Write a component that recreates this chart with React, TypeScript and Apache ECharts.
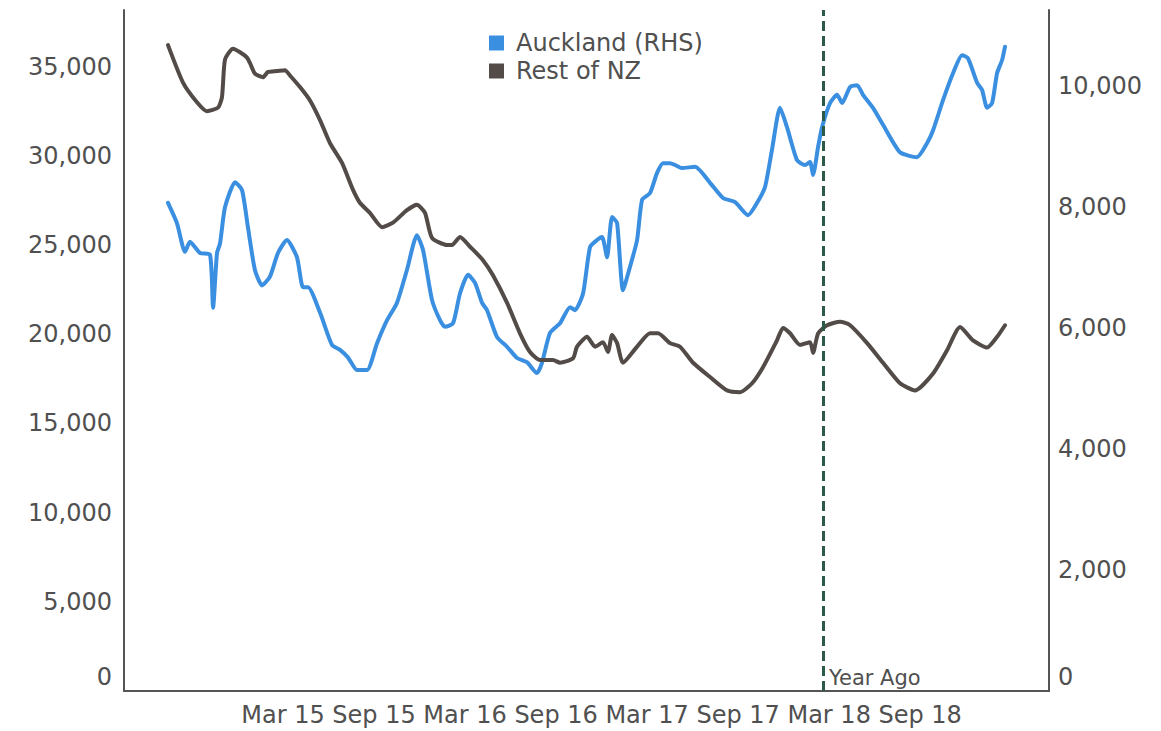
import { useEffect, useRef } from 'react';
import * as echarts from 'echarts';

// Month index counted from Jan 2014 (Jan 2014 = 0, Mar 2015 = 14, ...)
const xTickMonths = [14, 20, 26, 32, 38, 44, 50, 56];
const xTickLabels = ['Mar 15', 'Sep 15', 'Mar 16', 'Sep 16', 'Mar 17', 'Sep 17', 'Mar 18', 'Sep 18'];

const seriesNames = ['Auckland (RHS)', 'Rest of NZ'];

// Auckland (right-hand scale)
const aucklandMonths = [
  6.42, 7.01, 7.54, 7.87, 8.53, 9.19, 9.39, 9.65, 9.85, 10.18, 10.84, 11.3, 11.69, 12.15, 12.62, 13.14,
  13.67, 14.26, 14.92, 15.32, 15.65, 16.44, 17.23, 17.76, 18.28, 18.88, 19.54, 20.2, 20.86, 21.51, 22.17,
  22.83, 23.23, 23.82, 24.35, 24.68, 25.21, 25.67, 26.2, 26.66, 27.12, 27.45, 28.11, 28.77, 29.43, 30.08,
  30.74, 31.07, 31.6, 32.26, 32.92, 33.25, 33.78, 34.24, 34.7, 35.03, 35.36, 35.69, 36.02, 36.41, 36.87,
  37.34, 37.67, 38.19, 38.65, 39.05, 39.51, 39.84, 40.3, 41.16, 42.15, 43.0, 43.8, 44.65, 45.25, 45.77,
  46.23, 46.76, 47.22, 47.88, 48.41, 48.74, 48.94, 49.27, 49.53, 50.06, 50.52, 50.85, 51.38, 51.84, 52.23,
  52.89, 53.55, 54.67, 55.79, 56.45, 56.85, 57.51, 58.17, 58.76, 59.15, 59.75, 60.08, 60.41, 60.74, 61.07,
  61.4, 61.59,
];
const aucklandValues = [
  8070, 7735, 7260, 7425, 7240, 7210, 6335, 7240, 7400, 8000, 8410, 8280, 7665, 6960, 6705, 6850,
  7240, 7455, 7170, 6675, 6675, 6255, 5720, 5640, 5515, 5305, 5305, 5750, 6130, 6415, 6960,
  7535, 7290, 6465, 6130, 6020, 6080, 6575, 6880, 6745, 6415, 6295, 5850, 5690, 5505, 5435,
  5255, 5425, 5920, 6080, 6345, 6295, 6575, 7340, 7455, 7505, 7170, 7835, 7735, 6625, 7010,
  7455, 8120, 8230, 8560, 8725, 8725, 8695, 8645, 8665, 8400, 8150, 8080, 7865, 8070, 8330,
  8945, 9640, 9320, 8775, 8695, 8745, 8530, 8995, 9320, 9720, 9855, 9720, 9985, 10015, 9855,
  9640, 9360, 8905, 8825, 9055, 9270, 9770, 10215, 10510, 10460, 10055, 9935, 9640, 9720, 10215,
  10430, 10650,
];

// Rest of NZ (left-hand scale)
const restMonths = [
  6.42, 7.41, 8.33, 8.99, 9.72, 9.98, 10.18, 10.7, 11.17, 11.63, 11.82, 12.15, 12.68, 13.01, 13.6, 14.13,
  14.46, 15.12, 15.78, 16.44, 17.1, 17.89, 18.61, 19.08, 19.73, 20.53, 21.25, 22.17, 22.83, 23.36, 23.82,
  24.81, 25.14, 25.67, 26.33, 27.18, 27.84, 28.77, 29.62, 30.28, 30.94, 31.8, 32.26, 33.12, 33.38, 34.04,
  34.57, 35.09, 35.42, 35.69, 36.02, 36.41, 37.34, 38.19, 38.72, 39.51, 40.17, 41.03, 42.15, 43.27, 44.13,
  44.92, 45.64, 46.56, 46.96, 47.42, 48.08, 48.74, 48.94, 49.27, 49.86, 50.72, 51.38, 52.5, 53.55, 54.67,
  55.66, 56.85, 57.77, 58.63, 59.48, 60.41, 61.07, 61.59,
];
const restValues = [
  36200, 34100, 33000, 32500, 32700, 33300, 35400, 36000, 35800, 35500, 35200, 34600, 34400, 34700, 34750, 34800,
  34500, 33850, 33100, 32000, 30700, 29600, 28100, 27350, 26800, 26000, 26250, 26950, 27250, 26800, 25400,
  25000, 25000, 25450, 24900, 24150, 23300, 21750, 20050, 19000, 18550, 18550, 18400, 18650, 19300, 19850,
  19300, 19550, 19000, 19950, 19500, 18400, 19300, 20050, 20050, 19500, 19300, 18400, 17600, 16850, 16750,
  17250, 18150, 19650, 20350, 20050, 19400, 19550, 18950, 20050, 20500, 20700, 20500, 19500, 18400, 17250,
  16850, 17800, 19100, 20400, 19650, 19250, 19850, 20500,
];

// Marker one year before the latest observation
const yearAgoMonth = aucklandMonths[aucklandMonths.length - 1] - 12;

const FONT = 'DejaVu Sans';
const TEXT = '#505050';
const AXIS = '#555555';
const BLUE = '#3a8fe0';
const GREY = '#524b47';

const fmt = (v: number) => v.toLocaleString('en-US');

export default function App() {
  const ref = useRef<HTMLDivElement>(null);

  useEffect(() => {
    if (!ref.current) return;
    const chart = echarts.init(ref.current, null, { renderer: 'svg' });

    const axisLine = { show: true, lineStyle: { color: AXIS, width: 2 } };

    chart.setOption({
      animation: false,
      grid: { left: 124, right: 112, top: 10, bottom: 40 },
      legend: {
        orient: 'vertical',
        left: 484,
        top: 26,
        icon: 'rect',
        itemWidth: 15,
        itemHeight: 15,
        itemGap: 4,
        textStyle: { fontFamily: FONT, fontSize: 24, color: TEXT, padding: [0, 0, 0, 7] },
        data: seriesNames,
      },
      xAxis: {
        type: 'value',
        min: 3.52,
        max: 64.49,
        axisLine,
        axisTick: { show: false },
        splitLine: { show: false },
        axisLabel: {
          customValues: xTickMonths,
          formatter: (v: number) => {
            const i = xTickMonths.indexOf(v);
            return i >= 0 ? xTickLabels[i] : '';
          },
          fontFamily: FONT,
          fontSize: 24,
          color: TEXT,
          margin: 12,
        },
      },
      yAxis: [
        {
          type: 'value',
          position: 'left',
          min: 0,
          max: 38170,
          interval: 5000,
          axisLine,
          axisTick: { show: false },
          splitLine: { show: false },
          axisLabel: {
            showMinLabel: false,
            showMaxLabel: false,
            formatter: fmt,
            fontFamily: FONT,
            fontSize: 24,
            color: TEXT,
            margin: 12,
          },
        },
        {
          type: 'value',
          position: 'right',
          min: 0,
          max: 11257,
          interval: 2000,
          axisLine,
          axisTick: { show: false },
          splitLine: { show: false },
          axisLabel: {
            showMinLabel: false,
            showMaxLabel: false,
            formatter: fmt,
            fontFamily: FONT,
            fontSize: 24,
            color: TEXT,
            margin: 9,
          },
        },
      ],
      series: [
        {
          name: seriesNames[0],
          type: 'line',
          yAxisIndex: 1,
          showSymbol: false,
          symbol: 'none',
          smooth: 0.2,
          color: BLUE,
          itemStyle: { color: BLUE },
          lineStyle: { color: BLUE, width: 4, join: 'round', cap: 'round' },
          data: aucklandMonths.map((m, i) => [m, aucklandValues[i]]),
          markLine: {
            silent: true,
            symbol: 'none',
            label: { show: false },
            lineStyle: { color: '#2c5a48', width: 3, type: [10, 5] },
            data: [{ xAxis: yearAgoMonth }],
          },
          z: 2,
        },
        {
          name: seriesNames[1],
          type: 'line',
          yAxisIndex: 0,
          showSymbol: false,
          symbol: 'none',
          smooth: 0.2,
          color: GREY,
          itemStyle: { color: GREY },
          lineStyle: { color: GREY, width: 4, join: 'round', cap: 'round' },
          data: restMonths.map((m, i) => [m, restValues[i]]),
          z: 3,
        },
      ],
    });

    // Zero labels sit slightly above the baseline; the marker caption follows the dashed line
    const baseY = chart.convertToPixel({ yAxisIndex: 0 }, 0) as number;
    const markX = chart.convertToPixel({ xAxisIndex: 0 }, yearAgoMonth) as number;
    chart.setOption({
      graphic: [
        {
          type: 'text',
          x: 112,
          y: baseY - 14,
          style: { text: '0', fontFamily: FONT, fontSize: 24, fill: TEXT, align: 'right', verticalAlign: 'middle' },
        },
        {
          type: 'text',
          x: 1058,
          y: baseY - 14,
          style: { text: '0', fontFamily: FONT, fontSize: 24, fill: TEXT, align: 'left', verticalAlign: 'middle' },
        },
        {
          type: 'text',
          x: markX + 6,
          y: baseY - 13,
          style: { text: 'Year Ago', fontFamily: FONT, fontSize: 21, fill: TEXT, align: 'left', verticalAlign: 'middle' },
        },
      ],
    });

    return () => chart.dispose();
  }, []);

  return <div ref={ref} style={{ position: 'absolute', left: 0, top: 0, width: 1161, height: 731 }} />;
}
